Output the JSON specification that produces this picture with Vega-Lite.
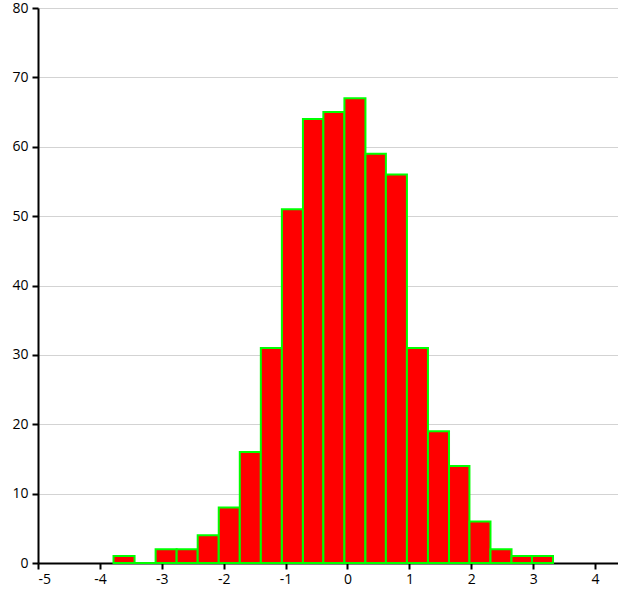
{
  "$schema": "https://vega.github.io/schema/vega-lite/v6.json",
  "description": "Histogram of 500 normally distributed values.",
  "autosize": "none",
  "width": 580,
  "height": 555,
  "padding": {"left": 38, "top": 8, "right": 0, "bottom": 32},
  "background": "white",
  "config": {
    "view": {"stroke": null},
    "axis": {
      "labelFont": "Open Sans",
      "labelFontSize": 14,
      "labelColor": "#000000",
      "domainColor": "#000000",
      "domainWidth": 2,
      "tickColor": "#000000",
      "tickWidth": 2,
      "tickSize": 6,
      "title": null
    }
  },
  "data": {
    "values": [
      {"x0": -3.78, "x1": -3.44, "count": 1},
      {"x0": -3.44, "x1": -3.10, "count": 0},
      {"x0": -3.10, "x1": -2.76, "count": 2},
      {"x0": -2.76, "x1": -2.42, "count": 2},
      {"x0": -2.42, "x1": -2.08, "count": 4},
      {"x0": -2.08, "x1": -1.74, "count": 8},
      {"x0": -1.74, "x1": -1.40, "count": 16},
      {"x0": -1.40, "x1": -1.06, "count": 31},
      {"x0": -1.06, "x1": -0.72, "count": 51},
      {"x0": -0.72, "x1": -0.39, "count": 64},
      {"x0": -0.39, "x1": -0.05, "count": 65},
      {"x0": -0.05, "x1": 0.29, "count": 67},
      {"x0": 0.29, "x1": 0.62, "count": 59},
      {"x0": 0.62, "x1": 0.96, "count": 56},
      {"x0": 0.96, "x1": 1.30, "count": 31},
      {"x0": 1.30, "x1": 1.64, "count": 19},
      {"x0": 1.64, "x1": 1.97, "count": 14},
      {"x0": 1.97, "x1": 2.31, "count": 6},
      {"x0": 2.31, "x1": 2.65, "count": 2},
      {"x0": 2.65, "x1": 2.98, "count": 1},
      {"x0": 2.98, "x1": 3.32, "count": 1}
    ]
  },
  "mark": {
    "type": "bar",
    "orient": "vertical",
    "fill": "#ff0000",
    "stroke": "#00ff00",
    "strokeWidth": 2,
    "binSpacing": 0
  },
  "encoding": {
    "x": {
      "field": "x0",
      "type": "quantitative",
      "scale": {"domain": [-5, 4.37], "nice": false, "zero": false, "padding": 0},
      "axis": {"values": [-5, -4, -3, -2, -1, 0, 1, 2, 3, 4], "grid": false, "labelPadding": 3, "labelExpr": "replace(datum.label, '−', '-')"}
    },
    "x2": {"field": "x1"},
    "y": {
      "field": "count",
      "type": "quantitative",
      "scale": {"domain": [0, 80], "nice": false},
      "axis": {"values": [0, 10, 20, 30, 40, 50, 60, 70, 80], "grid": true, "gridColor": "#d3d3d3", "gridWidth": 1, "labelPadding": 4}
    },
    "y2": {"datum": 0}
  }
}
